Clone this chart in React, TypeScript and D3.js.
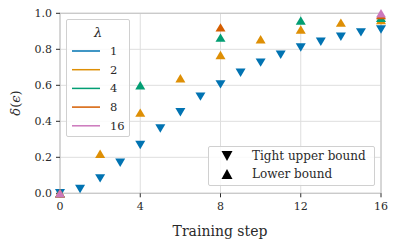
import * as d3 from 'd3'

const steps = [0, 1, 2, 3, 4, 5, 6, 7, 8, 9, 10, 11, 12, 13, 14, 15, 16]
const upperBound = [0.0, 0.024, 0.083, 0.17, 0.268, 0.36, 0.45, 0.537, 0.605, 0.67, 0.726, 0.77, 0.81, 0.842, 0.87, 0.894, 0.91]

const lambdas = ['1', '2', '4', '8', '16']
const colors = ['#0173b2', '#de8f05', '#029e73', '#d55e00', '#cc78bc']

// lower bound points per lambda: [step, value]
const lower2: [number, number][] = [[0, 0], [2, 0.22], [4, 0.448], [6, 0.639], [8, 0.768], [10, 0.856], [12, 0.91], [14, 0.948], [16, 0.963]]
const lower4: [number, number][] = [[0, 0], [4, 0.6], [8, 0.865], [12, 0.96], [16, 0.975]]
const lower8: [number, number][] = [[0, 0], [8, 0.922], [16, 0.99]]
const lower16: [number, number][] = [[0, 0], [16, 1.0]]
const lowerSeries = [
  { color: colors[1], pts: lower2 },
  { color: colors[2], pts: lower4 },
  { color: colors[3], pts: lower8 },
  { color: colors[4], pts: lower16 },
]

const xTicks = [0, 4, 8, 12, 16]
const yTicks = [0, 0.2, 0.4, 0.6, 0.8, 1.0]

const W = 397
const H = 246
const font = 'DejaVu Serif'
const ink = '#2a2a2a'

const tri = (cx: number, cy: number, down: boolean, hw = 5, hh = 4.2) =>
  down
    ? `M${cx - hw},${cy - hh}L${cx + hw},${cy - hh}L${cx},${cy + hh}Z`
    : `M${cx - hw},${cy + hh}L${cx + hw},${cy + hh}L${cx},${cy - hh}Z`

export default function App() {
  const x = d3.scaleLinear().domain([0, 16]).range([60, 381])
  const y = d3.scaleLinear().domain([0, 1]).range([193.3, 13.3])

  return (
    <svg width={W} height={H} style={{ position: 'absolute', left: 0, top: 0, background: '#fff', fontFamily: font }}>
      {/* grid */}
      {xTicks.map(t => (
        <line key={'gx' + t} x1={x(t)} x2={x(t)} y1={y(1)} y2={y(0)} stroke="#dedede" strokeWidth={1} />
      ))}
      {yTicks.map(t => (
        <line key={'gy' + t} x1={x(0)} x2={x(16)} y1={y(t)} y2={y(t)} stroke="#dedede" strokeWidth={1} />
      ))}
      {/* spines */}
      <rect x={x(0)} y={y(1)} width={x(16) - x(0)} height={y(0) - y(1)} fill="none" stroke="#c8c8c8" strokeWidth={1.25} />
      {/* ticks */}
      {xTicks.map(t => (
        <g key={'tx' + t}>
          <line x1={x(t)} x2={x(t)} y1={y(0)} y2={y(0) + 4} stroke={ink} strokeWidth={1} />
          <text x={x(t)} y={y(0) + 17} textAnchor="middle" fontSize={11} fill={ink}>{t}</text>
        </g>
      ))}
      {yTicks.map(t => (
        <g key={'ty' + t}>
          <line x1={x(0) - 4} x2={x(0)} y1={y(t)} y2={y(t)} stroke={ink} strokeWidth={1} />
          <text x={x(0) - 8} y={y(t) + 4} textAnchor="end" fontSize={11} fill={ink}>{t.toFixed(1)}</text>
        </g>
      ))}
      <text x={220} y={236} textAnchor="middle" fontSize={14} fill={ink}>Training step</text>
      <text transform={`translate(20,${103}) rotate(-90)`} textAnchor="middle" fontSize={13} fill={ink}>
        <tspan fontStyle="italic">δ</tspan>(<tspan fontStyle="italic">ϵ</tspan>)
      </text>

      {/* data */}
      {steps.map((s, i) => (
        <path key={'u' + s} d={tri(x(s), y(upperBound[i]), true)} fill={colors[0]} />
      ))}
      {lowerSeries.map((ser, k) =>
        ser.pts.map(([s, v]) => (
          <path key={'l' + k + '-' + s} d={tri(x(s), y(v), false)} fill={ser.color} />
        ))
      )}

      {/* lambda legend */}
      <rect x={66.5} y={19.5} width={63} height={117} fill="#fff" fillOpacity={0.85} stroke="#d0d0d0" strokeWidth={1} rx={1.5} />
      <text x={98} y={37} textAnchor="middle" fontSize={13} fontStyle="italic" fill={ink}>λ</text>
      {lambdas.map((l, i) => (
        <g key={'lg' + l}>
          <line x1={72} x2={100} y1={51 + i * 18.7} y2={51 + i * 18.7} stroke={colors[i]} strokeWidth={1.5} />
          <text x={110} y={55 + i * 18.7} fontSize={11.5} fill={ink}>{l}</text>
        </g>
      ))}

      {/* marker legend */}
      <rect x={208.5} y={146.5} width={166} height={39} fill="#fff" fillOpacity={0.85} stroke="#d0d0d0" strokeWidth={1} rx={1.5} />
      <path d={tri(227, 156, true, 5.5, 5)} fill="#000" />
      <path d={tri(227, 174, false, 5.5, 5)} fill="#000" />
      <text x={252} y={160} fontSize={12} fill={ink}>Tight upper bound</text>
      <text x={252} y={178} fontSize={12} fill={ink}>Lower bound</text>
    </svg>
  )
}
